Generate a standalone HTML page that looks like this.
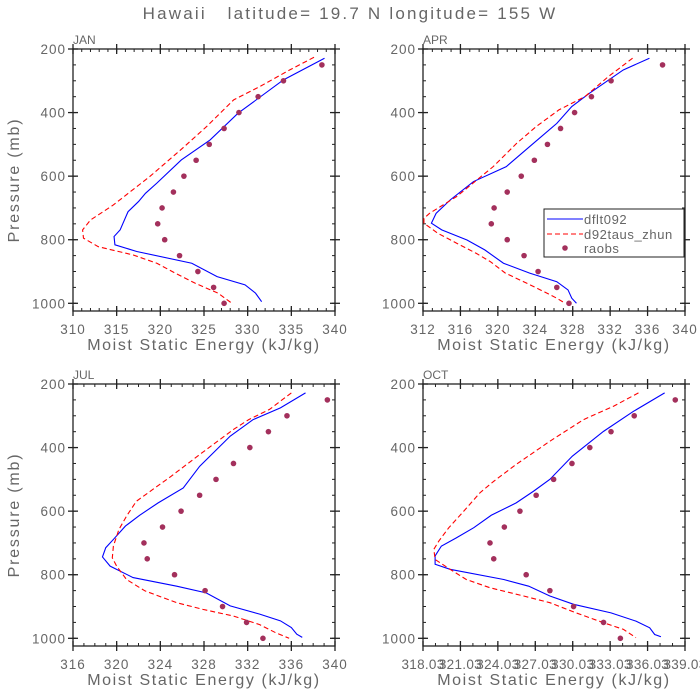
<!DOCTYPE html>
<html><head><meta charset="utf-8"><style>
html,body{margin:0;padding:0;background:#fff;}
svg{display:block;font-family:"Liberation Sans",sans-serif;}
</style></head><body>
<svg id="chart" width="700" height="700" viewBox="0 0 700 700">
<text x="350" y="19" text-anchor="middle" font-size="17" letter-spacing="2.2" fill="#666" xml:space="preserve">Hawaii   latitude= 19.7 N longitude= 155 W</text>
</svg>
<script>
const pressures = [250,300,350,400,450,500,550,600,650,700,750,800,850,900,950,1000];
const janObs = [338.5,334.1,331.2,329,327.3,325.6,324.1,322.7,321.5,320.2,319.7,320.5,322.2,324.3,326.1,327.3];
const aprObs = [337.6,332.1,330,328.2,326.7,325.3,323.9,322.5,321,319.6,319.3,321,322.8,324.3,326.3,327.6];
const julObs = [339.3,335.6,333.9,332.2,330.7,329.1,327.6,325.9,324.2,322.5,322.8,325.3,328.1,329.7,331.9,333.4];
const octObs = [338.25,334.96,333.1,331.4,329.97,328.5,327.1,325.8,324.55,323.4,323.7,326.3,328.2,330.1,332.5,333.85];

const janBlueE = [338.8,334.1,328.9,325.7,322.4,319.6,318.3,317.5,316.3,315.4,314.7,314.8,317.3,323.6,326.5,329.7,330.9,331.6];
const janBlueP = [229,297,402,486,549,622,654,680,712,769,790,816,837,874,916,942,968,995];
const janRedE = [337.6,334.8,331.4,328.4,325.3,322.3,318.8,314.6,312,311.1,311.2,312.9,316.9,319.6,321.7,324,326.6,328.2];
const janRedP = [226,266,318,360,444,518,601,691,738,769,795,822,848,874,905,937,968,1000];

const aprBlueE = [336.2,333.4,329.8,327.9,326.3,323.4,320.9,317.4,314.9,313.4,312.9,314,316.7,318.6,320.6,323.4,326.3,327.5,327.9,328.4];
const aprBlueP = [229,266,339,381,434,507,570,617,675,717,748,769,801,832,874,905,932,958,984,1000];
const aprRedE = [334.4,331.8,329.3,326.5,324.1,322,319.5,315.6,312.7,312.1,312.1,313.6,315.6,317.7,319.2,320.8,323.1,324.9,326.3,327.2];
const aprRedP = [229,287,350,392,444,497,570,664,717,733,748,780,811,843,869,905,937,963,984,1000];

const julBlueE = [337.3,335,332.5,330.4,327.6,326.1,323.8,322.1,320.8,319.7,319,318.7,319.4,321.5,325.5,328.2,330.4,333.1,335,336,336.5,337];
const julBlueP = [228,275,312,364,459,527,574,613,647,689,715,744,773,809,836,857,898,924,945,966,987,997];
const julRedE = [336,334,332.1,330.7,327.6,325,321.8,320.9,320.2,319.7,319.6,320,320.9,322.6,325.5,327.9,330.7,333.1,334.6,335.8];
const julRedP = [228,280,312,343,422,490,569,616,658,710,747,773,815,851,888,909,930,957,983,1000];

const octBlueE = [337.4,334.9,332.5,330,328.2,326.9,325.5,323.5,322.1,320.7,319.5,319,319,320.2,324.5,326.5,328.2,330.1,333.1,335.1,336.2,336.6,337.1];
const octBlueP = [228,286,349,427,500,537,574,613,652,684,710,741,767,783,815,836,867,893,920,946,967,988,995];
const octRedE = [335.3,333.3,330.9,328.2,325.5,323.7,322.6,321.3,320.1,319.3,318.9,319,320.2,321.5,323.4,326.1,328.2,330.3,332.5,334.1,335.1];
const octRedP = [228,270,312,380,453,506,542,600,652,694,720,752,783,815,841,867,888,920,951,972,998];

const janTicks = ["310","315","320","325","330","335","340"];
const aprTicks = ["312","316","320","324","328","332","336","340"];
const julTicks = ["316","320","324","328","332","336","340"];
const octTicks = ["318.03","321.03","324.03","327.03","330.03","333.03","336.03","339.03"];
const pTicks = [200,400,600,800,1000];

const NS="http://www.w3.org/2000/svg";
const svg=document.getElementById('chart');
function mk(tag,attrs,parent){const e=document.createElementNS(NS,tag);for(const k in attrs)e.setAttribute(k,attrs[k]);(parent||svg).appendChild(e);return e;}

const panels=[
 {name:'jan',label:'JAN',x0:73,y0:49,xmin:310,xmax:340,minor:1,ticks:janTicks,obs:janObs,bE:janBlueE,bP:janBlueP,rE:janRedE,rP:janRedP,ytitle:true},
 {name:'apr',label:'APR',x0:423,y0:49,xmin:312,xmax:340,minor:1,ticks:aprTicks,obs:aprObs,bE:aprBlueE,bP:aprBlueP,rE:aprRedE,rP:aprRedP,ytitle:false,legend:true},
 {name:'jul',label:'JUL',x0:73,y0:384,xmin:316,xmax:340,minor:1,ticks:julTicks,obs:julObs,bE:julBlueE,bP:julBlueP,rE:julRedE,rP:julRedP,ytitle:true},
 {name:'oct',label:'OCT',x0:423,y0:384,xmin:318.03,xmax:339.03,minor:1,ticks:octTicks,obs:octObs,bE:octBlueE,bP:octBlueP,rE:octRedE,rP:octRedP,ytitle:false}
];
const W=262,H=262,PMIN=200,PMAX=200+262/254.3*800;
const grey='#666';

panels.forEach(p=>{
  const g=mk('g',{});
  
  
  const sx=v=>p.x0+(v-p.xmin)/(p.xmax-p.xmin)*W;
  const sy=v=>p.y0+(v-PMIN)/(PMAX-PMIN)*H;
  const fr=mk('rect',{x:p.x0,y:p.y0,width:W,height:H,fill:'none',stroke:'#222','stroke-width':1.3},g);
  
  
  const step=(p.xmax-p.xmin)/(p.ticks.length-1);
  for(let v=p.xmin;v<=p.xmax+1e-6;v+=p.minor){
    const x=sx(v);
    mk('line',{x1:x,y1:p.y0+H,x2:x,y2:p.y0+H-3,stroke:'#222'},g);
    mk('line',{x1:x,y1:p.y0,x2:x,y2:p.y0+3,stroke:'#222'},g);
  }
  p.ticks.forEach((t,i)=>{
    const x=sx(p.xmin+i*step);
    mk('line',{x1:x,y1:p.y0+H-5,x2:x,y2:p.y0+H+5,stroke:'#222','stroke-width':1.3},g);
    mk('line',{x1:x,y1:p.y0-5,x2:x,y2:p.y0+5,stroke:'#222','stroke-width':1.3},g);
    const tx=mk('text',{x:x,y:p.y0+H+23,'text-anchor':'middle','font-size':13.5,'letter-spacing':p.name==='oct'?0.3:1,fill:grey},g);
    
    
    tx.textContent=t;
  });
  for(let v=250;v<PMAX;v+=50){
    const y=sy(v);
    mk('line',{x1:p.x0,y1:y,x2:p.x0+3,y2:y,stroke:'#222'},g);
    mk('line',{x1:p.x0+W,y1:y,x2:p.x0+W-3,y2:y,stroke:'#222'},g);
  }
  pTicks.forEach(v=>{
    const y=sy(v);
    mk('line',{x1:p.x0-5,y1:y,x2:p.x0+5,y2:y,stroke:'#222','stroke-width':1.3},g);
    mk('line',{x1:p.x0+W-5,y1:y,x2:p.x0+W+5,y2:y,stroke:'#222','stroke-width':1.3},g);
    const ty=mk('text',{x:p.x0-7,y:y+5,'text-anchor':'end','font-size':13.5,'letter-spacing':1,fill:grey},g);
    
    
    ty.textContent=v;
  });
  const lb=mk('text',{x:p.x0,y:p.y0-5,'font-size':12,fill:grey},g);
  
  
  lb.textContent=p.label;
  const xt=mk('text',{x:p.x0+W/2,y:p.y0+H+39,'text-anchor':'middle','font-size':16,'letter-spacing':1.6,fill:grey},g);
  
  
  xt.textContent='Moist Static Energy (kJ/kg)';
  if(p.ytitle){
    const yt=mk('text',{x:0,y:0,'text-anchor':'middle','font-size':16,'letter-spacing':1.8,fill:grey,transform:`translate(19,${p.y0+H/2}) rotate(-90)`},g);
    
    
    yt.textContent='Pressure (mb)';
  }
  const bl=mk('polyline',{points:p.bE.map((e,i)=>sx(e)+','+sy(p.bP[i])).join(' '),fill:'none',stroke:'#0000ff','stroke-width':1.1},g);
  
  
  const rl=mk('polyline',{points:p.rE.map((e,i)=>sx(e)+','+sy(p.rP[i])).join(' '),fill:'none',stroke:'#ff0000','stroke-width':1.1,'stroke-dasharray':'5,3'},g);
  
  
  p.obs.forEach((e,i)=>{
    const c=mk('circle',{cx:sx(e),cy:sy(pressures[i]),r:2.8,fill:'#a3305c'},g);
    
    
  });
  if(p.legend){
    const lg=mk('g',{},g);
    
    
    mk('rect',{x:544,y:209,width:140,height:48,fill:'#fff',stroke:'#222'},lg);
    mk('line',{x1:547,y1:219,x2:583,y2:219,stroke:'#0000ff','stroke-width':1.1},lg);
    mk('line',{x1:547,y1:234,x2:583,y2:234,stroke:'#ff0000','stroke-width':1.1,'stroke-dasharray':'5,3'},lg);
    mk('circle',{cx:565,cy:248,r:2.8,fill:'#a3305c'},lg);
    [['dflt092',224],['d92taus_zhun',239],['raobs',253]].forEach(([t,y])=>{
      const tt=mk('text',{x:584,y:y,'font-size':13,'letter-spacing':0.6,fill:grey},lg);
      
      
      tt.textContent=t;
    });
  }
});
</script>
</body></html>
